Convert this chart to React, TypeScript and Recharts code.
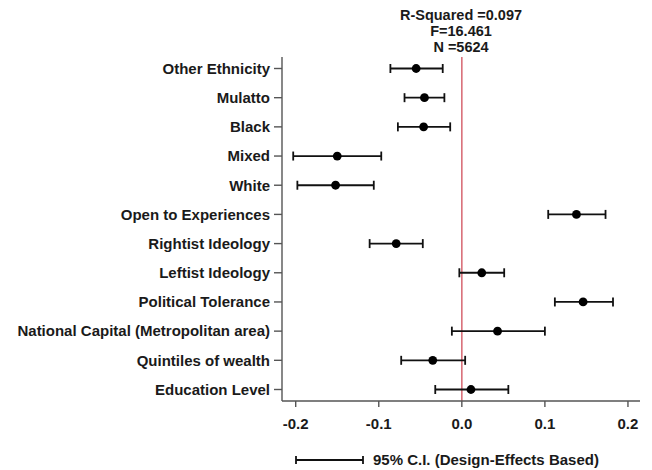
import {
  ScatterChart,
  Scatter,
  XAxis,
  YAxis,
  ErrorBar,
  ReferenceLine,
} from "recharts";

const labels = [
  "Other Ethnicity",
  "Mulatto",
  "Black",
  "Mixed",
  "White",
  "Open to Experiences",
  "Rightist Ideology",
  "Leftist Ideology",
  "Political Tolerance",
  "National Capital (Metropolitan area)",
  "Quintiles of wealth",
  "Education Level",
];

const coef = [-0.055, -0.045, -0.046, -0.15, -0.152, 0.138, -0.079, 0.024, 0.146, 0.043, -0.035, 0.011];
const lower = [-0.086, -0.069, -0.077, -0.203, -0.198, 0.104, -0.111, -0.003, 0.112, -0.012, -0.073, -0.032];
const upper = [-0.023, -0.021, -0.014, -0.097, -0.106, 0.173, -0.047, 0.051, 0.182, 0.1, 0.004, 0.056];

const xTicks = [-0.2, -0.1, 0, 0.1, 0.2];
const stats = ["R-Squared =0.097", "F=16.461", "N =5624"];

const font = "'Liberation Sans', Arial, sans-serif";
const ink = "#1a1a1a";

const data = labels.map((name, i) => ({
  name,
  row: i,
  coef: coef[i],
  err: [coef[i] - lower[i], upper[i] - coef[i]],
}));

const Dot = (props: any) => (
  <circle cx={props.cx} cy={props.cy} r={4.4} fill="#000" />
);

export default function App() {
  return (
    <div
      style={{
        position: "fixed",
        left: 0,
        top: 0,
        width: 652,
        height: 470,
        background: "#fff",
        fontFamily: font,
      }}
    >
      <ScatterChart
        width={652}
        height={470}
        margin={{ top: 57, right: 12, bottom: 39, left: 0 }}
      >
        <XAxis
          dataKey="coef"
          type="number"
          domain={[-0.2165, 0.2145]}
          ticks={xTicks}
          allowDataOverflow
          tickFormatter={(v: number) => v.toFixed(1)}
          height={30}
          tickSize={6}
          tickMargin={11}
          stroke="#555"
          strokeWidth={1.4}
          tick={{ fill: ink, fontSize: 15, fontWeight: 700, fontFamily: font }}
        />
        <YAxis
          dataKey="row"
          type="number"
          domain={[-0.394, 11.394]}
          reversed
          ticks={labels.map((_, i) => i)}
          interval={0}
          tickFormatter={(v: number) => labels[v]}
          width={282}
          tickSize={8}
          tickMargin={4}
          stroke="#555"
          strokeWidth={1.4}
          tick={{ fill: ink, fontSize: 15, fontWeight: 700, fontFamily: font }}
        />
        <ReferenceLine x={0} stroke="#d9707a" strokeWidth={1.6} ifOverflow="extendDomain" />
        <Scatter data={data} shape={Dot} isAnimationActive={false}>
          <ErrorBar
            dataKey="err"
            direction="x"
            width={4.5}
            stroke="#111"
            strokeWidth={1.8}
            isAnimationActive={false}
          />
        </Scatter>
      </ScatterChart>

      <div
        style={{
          position: "absolute",
          left: 361,
          top: 7,
          width: 200,
          textAlign: "center",
          fontSize: 14.5,
          fontWeight: 700,
          lineHeight: "16px",
          color: ink,
        }}
      >
        {stats.map((s) => (
          <div key={s}>{s}</div>
        ))}
      </div>

      <div
        style={{
          position: "absolute",
          left: 295,
          top: 451,
          display: "flex",
          alignItems: "center",
          fontSize: 15,
          fontWeight: 700,
          color: ink,
        }}
      >
        <svg width={70} height={12}>
          <line x1={1} y1={6} x2={68} y2={6} stroke="#111" strokeWidth={1.8} />
          <line x1={1} y1={2} x2={1} y2={10} stroke="#111" strokeWidth={1.8} />
          <line x1={68} y1={2} x2={68} y2={10} stroke="#111" strokeWidth={1.8} />
        </svg>
        <span style={{ marginLeft: 8 }}>95% C.I. (Design-Effects Based)</span>
      </div>
    </div>
  );
}
